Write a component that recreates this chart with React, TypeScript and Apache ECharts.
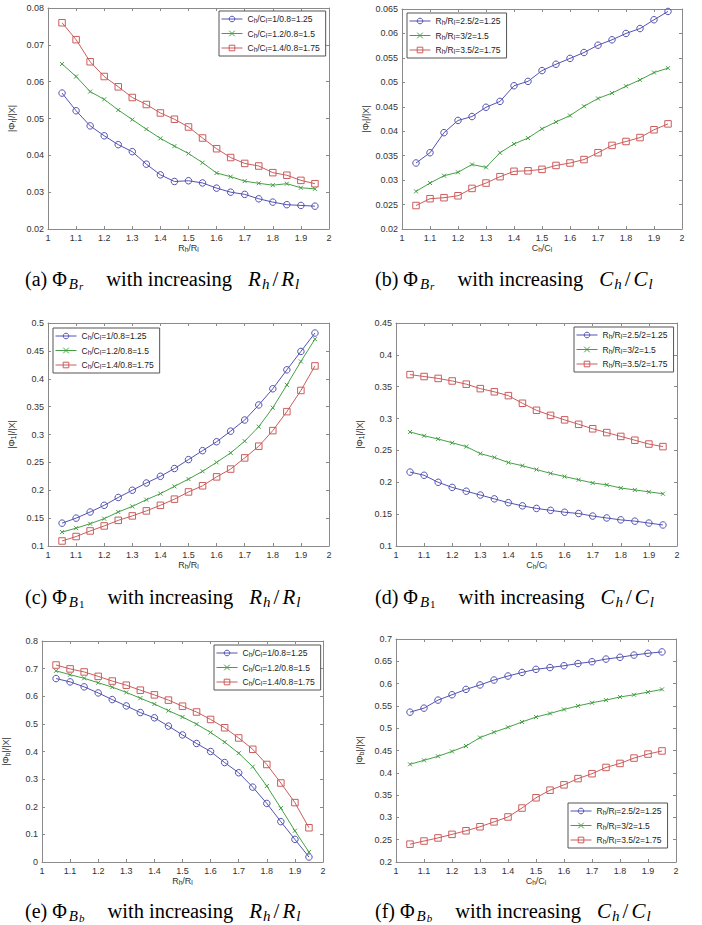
import React, { useEffect, useRef } from "react";
import * as echarts from "echarts";

const xs = [1.05, 1.1, 1.15, 1.2, 1.25, 1.3, 1.35, 1.4, 1.45, 1.5, 1.55, 1.6, 1.65, 1.7, 1.75, 1.8, 1.85, 1.9, 1.95];

const cLabels = ["Ch/Cl=1/0.8=1.25", "Ch/Cl=1.2/0.8=1.5", "Ch/Cl=1.4/0.8=1.75"];
const rLabels = ["Rh/Rl=2.5/2=1.25", "Rh/Rl=3/2=1.5", "Rh/Rl=3.5/2=1.75"];

const aBlue = [0.0569, 0.0521, 0.048, 0.0453, 0.0429, 0.041, 0.0376, 0.0347, 0.0329, 0.0331, 0.0325, 0.0311, 0.03, 0.0294, 0.0282, 0.0273, 0.0266, 0.0264, 0.0262];
const aGreen = [0.0648, 0.0614, 0.0573, 0.0552, 0.0523, 0.0497, 0.0471, 0.0446, 0.0425, 0.0405, 0.038, 0.0352, 0.0342, 0.033, 0.0324, 0.0319, 0.0323, 0.0312, 0.0309];
const aRed = [0.076, 0.0714, 0.0654, 0.0614, 0.0586, 0.0557, 0.0538, 0.0515, 0.0498, 0.0477, 0.0447, 0.0418, 0.0394, 0.0378, 0.0371, 0.0353, 0.0346, 0.0332, 0.0323];

const bBlue = [0.0335, 0.0356, 0.0397, 0.0422, 0.043, 0.0449, 0.0461, 0.0493, 0.0502, 0.0524, 0.0537, 0.0549, 0.0561, 0.0576, 0.0587, 0.06, 0.061, 0.0628, 0.0645];
const bGreen = [0.0277, 0.0294, 0.0309, 0.0316, 0.0332, 0.0326, 0.0356, 0.0374, 0.0386, 0.0405, 0.0419, 0.0432, 0.0451, 0.0467, 0.0478, 0.0492, 0.0505, 0.052, 0.0529];
const bRed = [0.0248, 0.0262, 0.0264, 0.0268, 0.0283, 0.0294, 0.0307, 0.0318, 0.0319, 0.0322, 0.033, 0.0335, 0.0342, 0.0356, 0.0371, 0.0379, 0.0387, 0.0403, 0.0415];

const cBlue = [0.141, 0.15, 0.161, 0.173, 0.187, 0.2, 0.213, 0.225, 0.239, 0.255, 0.271, 0.287, 0.306, 0.326, 0.353, 0.382, 0.416, 0.449, 0.482];
const cGreen = [0.125, 0.132, 0.14, 0.149, 0.161, 0.171, 0.183, 0.194, 0.207, 0.22, 0.234, 0.25, 0.267, 0.288, 0.314, 0.348, 0.389, 0.431, 0.471];
const cRed = [0.109, 0.117, 0.127, 0.136, 0.146, 0.154, 0.163, 0.173, 0.184, 0.197, 0.208, 0.224, 0.238, 0.258, 0.279, 0.307, 0.341, 0.379, 0.423];

const dBlue = [0.216, 0.211, 0.2, 0.192, 0.186, 0.18, 0.174, 0.168, 0.163, 0.159, 0.156, 0.153, 0.151, 0.147, 0.144, 0.141, 0.139, 0.136, 0.133];
const dGreen = [0.279, 0.273, 0.268, 0.262, 0.256, 0.245, 0.239, 0.231, 0.226, 0.22, 0.214, 0.209, 0.204, 0.199, 0.196, 0.191, 0.188, 0.185, 0.182];
const dRed = [0.369, 0.366, 0.363, 0.359, 0.354, 0.347, 0.342, 0.336, 0.324, 0.313, 0.305, 0.298, 0.291, 0.284, 0.278, 0.272, 0.266, 0.26, 0.256];

const eBlue = [0.664, 0.652, 0.634, 0.612, 0.588, 0.565, 0.541, 0.522, 0.492, 0.46, 0.429, 0.4, 0.36, 0.323, 0.271, 0.212, 0.146, 0.082, 0.018];
const eGreen = [0.692, 0.678, 0.665, 0.649, 0.633, 0.614, 0.593, 0.572, 0.548, 0.525, 0.499, 0.469, 0.434, 0.394, 0.345, 0.275, 0.195, 0.113, 0.036];
const eRed = [0.713, 0.699, 0.688, 0.672, 0.655, 0.64, 0.622, 0.605, 0.586, 0.564, 0.543, 0.516, 0.486, 0.449, 0.408, 0.353, 0.286, 0.215, 0.124];

const fBlue = [0.536, 0.545, 0.563, 0.575, 0.587, 0.597, 0.608, 0.617, 0.625, 0.632, 0.636, 0.64, 0.645, 0.649, 0.655, 0.659, 0.664, 0.668, 0.671];
const fGreen = [0.419, 0.428, 0.437, 0.448, 0.46, 0.479, 0.491, 0.502, 0.514, 0.525, 0.533, 0.542, 0.55, 0.557, 0.563, 0.57, 0.575, 0.581, 0.587];
const fRed = [0.24, 0.247, 0.254, 0.262, 0.27, 0.279, 0.29, 0.301, 0.321, 0.344, 0.361, 0.373, 0.387, 0.398, 0.412, 0.421, 0.433, 0.442, 0.449];

const COLORS = ["#5252b4", "#45a045", "#cc5c5c"];
const SYMBOLS = ["circle", "path://M0,0L10,10M0,10L10,0", "rect"];
const SYMBOL_SIZES = [6.5, 4, 6.5];
const SANS = "Liberation Sans, Arial, sans-serif";
const SERIF = "Liberation Serif, Times New Roman, serif";
const AXIS_COLOR = "#8a8a8a";
const LABEL_COLOR = "#333";

const panels = [
  { grid: { left: 48, top: 8, width: 281, height: 221 }, y: [0.02, 0.08, 0.01], series: [aBlue, aGreen, aRed], labels: cLabels, xVar: "R", phiSub: "r", legend: { left: 219, top: 11 }, cap: { tag: "(a)", sub: "r", v: "R", left: 25, top: 268 } },
  { grid: { left: 402, top: 9, width: 280, height: 220 }, y: [0.02, 0.065, 0.005], series: [bBlue, bGreen, bRed], labels: rLabels, xVar: "C", phiSub: "r", legend: { left: 407, top: 13 }, cap: { tag: "(b)", sub: "r", v: "C", left: 375, top: 268 } },
  { grid: { left: 48, top: 323, width: 281, height: 223 }, y: [0.1, 0.5, 0.05], series: [cBlue, cGreen, cRed], labels: cLabels, xVar: "R", phiSub: "1", legend: { left: 53, top: 328 }, cap: { tag: "(c)", sub: "1", v: "R", left: 25, top: 586 } },
  { grid: { left: 396, top: 323, width: 281, height: 223 }, y: [0.1, 0.45, 0.05], series: [dBlue, dGreen, dRed], labels: rLabels, xVar: "C", phiSub: "1", legend: { left: 574, top: 327 }, cap: { tag: "(d)", sub: "1", v: "C", left: 375, top: 586 } },
  { grid: { left: 42, top: 641, width: 281, height: 221 }, y: [0, 0.8, 0.1], series: [eBlue, eGreen, eRed], labels: cLabels, xVar: "R", phiSub: "b", legend: { left: 214, top: 645 }, cap: { tag: "(e)", sub: "b", v: "R", left: 25, top: 900 } },
  { grid: { left: 396, top: 639, width: 280, height: 223 }, y: [0.2, 0.7, 0.05], series: [fBlue, fGreen, fRed], labels: rLabels, xVar: "C", phiSub: "b", legend: { left: 568, top: 803 }, cap: { tag: "(f)", sub: "b", v: "C", left: 375, top: 900 } },
];

const fmt = (v: number) => String(Number(v.toFixed(4)));

const smallRich = {
  s: { fontSize: 6.5, fontFamily: SANS, lineHeight: 7, verticalAlign: "bottom", color: "#222" },
};

const legendFormatter = (name: string) =>
  name.replace(/^([CR])h\/([CR])l/, (_m: string, a: string, b: string) => `${a}{s|h}/${b}{s|l}`);

const capRich = {
  n: { fontFamily: SERIF, fontSize: 20, lineHeight: 26, color: "#000" },
  phi: { fontFamily: SERIF, fontSize: 20, lineHeight: 26, color: "#000", padding: [0, 1, 0, 5] },
  B: { fontFamily: SERIF, fontSize: 15, fontStyle: "italic", lineHeight: 19, verticalAlign: "bottom", color: "#000", padding: [0, 1, 0, 1] },
  r: { fontFamily: SERIF, fontSize: 11, fontStyle: "italic", lineHeight: 10, verticalAlign: "bottom", color: "#000" },
  one: { fontFamily: SERIF, fontSize: 11, lineHeight: 10, verticalAlign: "bottom", color: "#000" },
  w: { fontFamily: SERIF, fontSize: 20.5, lineHeight: 26, color: "#000", padding: [0, 0, 0, 23] },
  V: { fontFamily: SERIF, fontSize: 21, fontStyle: "italic", lineHeight: 26, color: "#000", padding: [0, 0, 0, 16] },
  V2: { fontFamily: SERIF, fontSize: 21, fontStyle: "italic", lineHeight: 26, color: "#000", padding: [0, 0, 0, 2] },
  hs: { fontFamily: SERIF, fontSize: 15, fontStyle: "italic", lineHeight: 19, verticalAlign: "bottom", color: "#000", padding: [0, 2, 0, 1] },
  sl: { fontFamily: SERIF, fontSize: 21, lineHeight: 26, color: "#000", padding: [0, 1, 0, 1] },
};

function captionText(tag: string, sub: string, v: string) {
  const subTok = sub === "1" ? `{one|1}` : `{r|${sub}}`;
  return `{n|${tag}}{phi|Φ}{B|B}${subTok}{w|with increasing}{V|${v}}{hs|h}{sl|/}{V2|${v}}{hs|l}`;
}

function buildOption() {
  const grid: any[] = [];
  const xAxis: any[] = [];
  const yAxis: any[] = [];
  const series: any[] = [];
  const legend: any[] = [];
  const graphic: any[] = [];

  panels.forEach((p, i) => {
    grid.push({ ...p.grid, containLabel: false });
    const baseX = {
      type: "value",
      gridIndex: i,
      min: 1,
      max: 2,
      interval: 0.1,
      axisLine: { show: true, onZero: false, lineStyle: { color: AXIS_COLOR, width: 1 } },
      axisTick: { show: true, inside: true, length: 3, lineStyle: { color: AXIS_COLOR } },
      splitLine: { show: false },
    };
    xAxis.push({
      ...baseX,
      position: "bottom",
      name: `${p.xVar}{s|h}/${p.xVar}{s|l}`,
      nameLocation: "middle",
      nameGap: 13,
      nameTextStyle: { fontSize: 9, fontFamily: SANS, color: LABEL_COLOR, verticalAlign: "top", lineHeight: 10, rich: smallRich },
      axisLabel: { show: true, fontSize: 9, fontFamily: SANS, color: LABEL_COLOR, margin: 4, formatter: fmt },
    });
    xAxis.push({ ...baseX, position: "top", axisLabel: { show: false } });

    const baseY = {
      type: "value",
      gridIndex: i,
      min: p.y[0],
      max: p.y[1],
      interval: p.y[2],
      axisLine: { show: true, onZero: false, lineStyle: { color: AXIS_COLOR, width: 1 } },
      axisTick: { show: true, inside: true, length: 3, lineStyle: { color: AXIS_COLOR } },
      splitLine: { show: false },
    };
    yAxis.push({
      ...baseY,
      position: "left",
      name: `|Φ{s|${p.phiSub}}|/|X|`,
      nameLocation: "middle",
      nameRotate: 90,
      nameGap: 31,
      nameTextStyle: { fontSize: 9, fontFamily: SANS, color: LABEL_COLOR, lineHeight: 10, rich: smallRich },
      axisLabel: { show: true, fontSize: 9, fontFamily: SANS, color: LABEL_COLOR, margin: 4, formatter: fmt },
    });
    yAxis.push({ ...baseY, position: "right", axisLabel: { show: false } });

    p.series.forEach((vals, k) => {
      series.push({
        type: "line",
        name: p.labels[k],
        xAxisIndex: 2 * i,
        yAxisIndex: 2 * i,
        data: xs.map((x, j) => [x, vals[j]]),
        symbol: SYMBOLS[k],
        symbolSize: SYMBOL_SIZES[k],
        showSymbol: true,
        lineStyle: { color: COLORS[k], width: 1 },
        itemStyle: { color: "rgba(255,255,255,0)", borderColor: COLORS[k], borderWidth: 1 },
        emphasis: { disabled: true },
      });
    });

    legend.push({
      orient: "vertical",
      left: p.legend.left,
      top: p.legend.top,
      data: p.labels,
      itemWidth: 21,
      itemHeight: 7,
      itemGap: 4.5,
      padding: [3, 6, 3, 2],
      borderColor: "#555",
      borderWidth: 1,
      borderRadius: 0,
      backgroundColor: "#fff",
      selectedMode: false,
      lineStyle: { width: 1 },
      itemStyle: { borderWidth: 1 },
      formatter: legendFormatter,
      textStyle: { fontSize: 8.5, fontFamily: SANS, color: "#222", lineHeight: 10, rich: smallRich },
    });

    graphic.push({
      type: "text",
      left: p.cap.left,
      top: p.cap.top,
      style: {
        text: captionText(p.cap.tag, p.cap.sub, p.cap.v),
        rich: capRich,
        fill: "#000",
        font: `20px ${SERIF}`,
      },
    });
  });

  return {
    animation: false,
    backgroundColor: "#fff",
    grid,
    xAxis,
    yAxis,
    series,
    legend,
    graphic,
  };
}

export default function App() {
  const ref = useRef<HTMLDivElement>(null);
  useEffect(() => {
    document.body.style.margin = "0";
    if (!ref.current) return;
    const chart = echarts.init(ref.current, undefined, { renderer: "svg" });
    chart.setOption(buildOption() as any);
    return () => chart.dispose();
  }, []);
  return <div ref={ref} style={{ width: 702, height: 925 }} />;
}
